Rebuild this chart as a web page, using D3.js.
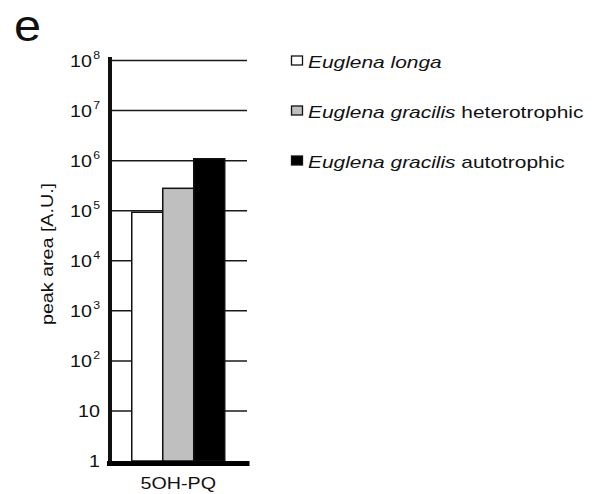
<!DOCTYPE html>
<html><head><meta charset="utf-8">
<script src="https://cdn.jsdelivr.net/npm/d3@7"></script>
<style>
html,body{margin:0;padding:0;background:#fff;}
svg{display:block;font-family:"Liberation Sans",Arial,sans-serif;}
</style></head>
<body>
<svg id="chart" width="602" height="494"></svg>
<script>
const categories = ["5OH-PQ"];
const seriesNames = ["Euglena longa", "Euglena gracilis heterotrophic", "Euglena gracilis autotrophic"];
const seriesItalic = ["Euglena longa", "Euglena gracilis", "Euglena gracilis"];
const seriesPlain = ["", " heterotrophic", " autotrophic"];
const seriesColors = ["#ffffff", "#bfbfbf", "#000000"];
const values = [[93000], [280000], [1090000]]; // per series, per category
const tickValues = [1, 10, 100, 1e3, 1e4, 1e5, 1e6, 1e7, 1e8];
const tickBase = ["1", "10", "10", "10", "10", "10", "10", "10", "10"];
const tickExp = ["", "", "2", "3", "4", "5", "6", "7", "8"];
const panelLabel = "e";
const yTitle = "peak area [A.U.]";

const SX = 1.23; // text horizontal stretch seen in the reference
const svg = d3.select("#chart");
const y = d3.scaleLog().domain([1, 1e8]).range([461, 60.5]);
const x0 = d3.scaleBand().domain(categories).range([112, 247]).paddingInner(0).paddingOuter(0.226).align(0.47);
const x1 = d3.scaleBand().domain(seriesNames).range([0, x0.bandwidth()]).padding(0);

// gridlines
svg.append("g").selectAll("line").data(tickValues.slice(1)).join("line")
  .attr("x1", 112).attr("x2", 247)
  .attr("y1", d => y(d)).attr("y2", d => y(d))
  .attr("stroke", "#1a1a1a").attr("stroke-width", 1.5);

// bars
const g = svg.append("g");
categories.forEach((c, ci) => {
  seriesNames.forEach((s, si) => {
    g.append("rect")
      .attr("x", x0(c) + x1(s))
      .attr("y", y(values[si][ci]))
      .attr("width", x1.bandwidth())
      .attr("height", y(1) - y(values[si][ci]))
      .attr("fill", seriesColors[si])
      .attr("stroke", "#111").attr("stroke-width", 1.5);
  });
});

// axes lines
svg.append("line").attr("x1", 110).attr("x2", 110).attr("y1", 57).attr("y2", 466)
  .attr("stroke", "#111").attr("stroke-width", 4);
svg.append("line").attr("x1", 107).attr("x2", 249.5).attr("y1", 463.5).attr("y2", 463.5)
  .attr("stroke", "#000").attr("stroke-width", 5);

// tick labels
const yAxis = d3.axisLeft(y).tickValues(tickValues).tickSize(0).tickPadding(0).tickFormat(() => "");
const ag = svg.append("g").attr("transform", "translate(100,0)").call(yAxis);
ag.select(".domain").remove();
ag.selectAll(".tick text").remove();
ag.selectAll(".tick").each(function(d, i) {
  const t = d3.select(this).append("text")
    .attr("transform", `scale(${SX},1)`)
    .attr("text-anchor", "end").attr("dy", "0.35em")
    .attr("font-size", 16).attr("fill", "#111");
  t.append("tspan").text(tickBase[i]);
  if (tickExp[i]) t.append("tspan").attr("font-size", 10).attr("dy", "-0.75em").attr("dx", 1).text(tickExp[i]);
});

// x category label
svg.selectAll(".xlab").data(categories).join("text")
  .attr("transform", d => `translate(${x0(d) + x0.bandwidth() / 2},489) scale(${SX},1)`)
  .attr("text-anchor", "middle").attr("font-size", 16).attr("fill", "#111")
  .text(d => d);

// y title
svg.append("text").attr("transform", `translate(53,254) rotate(-90) scale(${SX},1)`)
  .attr("text-anchor", "middle").attr("font-size", 16).attr("fill", "#111")
  .text(yTitle);

// panel label
svg.append("text").attr("transform", "translate(14,41) scale(1.08,1)")
  .attr("font-size", 45).attr("fill", "#111").text(panelLabel);

// legend
const legY = [62, 112, 162];
const lg = svg.append("g");
seriesNames.forEach((s, i) => {
  lg.append("rect").attr("x", 291.5).attr("y", legY[i] - 6).attr("width", 11).attr("height", 9)
    .attr("fill", seriesColors[i]).attr("stroke", "#111").attr("stroke-width", 1.3);
  const t = lg.append("text").attr("transform", `translate(308,${legY[i]}) scale(${SX},1)`)
    .attr("dy", "0.35em").attr("font-size", 17).attr("fill", "#111");
  t.append("tspan").attr("font-style", "italic").text(seriesItalic[i]);
  if (seriesPlain[i]) t.append("tspan").text(seriesPlain[i]);
});
</script>
</body></html>
